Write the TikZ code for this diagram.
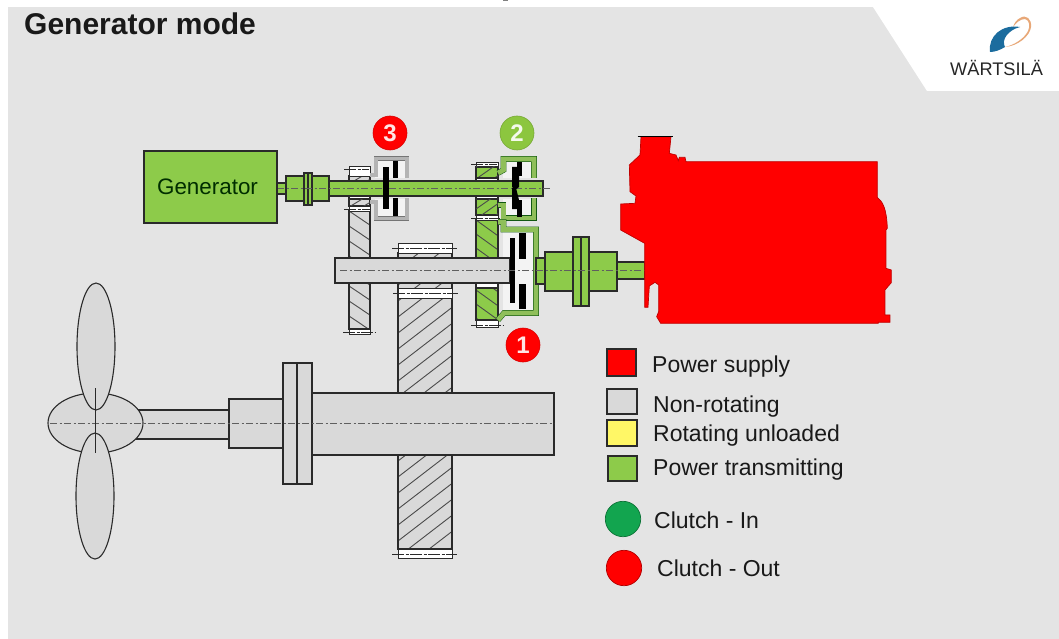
\documentclass[tikz,border=0pt]{standalone}
\usepackage{fontspec}
\setmainfont{Liberation Sans}
\definecolor{bgc}{HTML}{E4E4E4}
\definecolor{partgray}{HTML}{D9D9D9}
\definecolor{pgreen}{HTML}{8DCB4A}
\definecolor{hgreen}{HTML}{8FBF5A}
\definecolor{hgray}{HTML}{B4B4B4}
\definecolor{ink}{HTML}{2A2A2A}
\definecolor{cin}{HTML}{12A54F}
\definecolor{badgegreen}{HTML}{8CC63F}
\definecolor{logoblue}{HTML}{1B6C9E}
\definecolor{logoorange}{HTML}{E8A878}
\tikzset{
  part/.style={draw=ink,line width=1.1pt},
  graypart/.style={part,fill=partgray},
  greenpart/.style={part,fill=pgreen},
  centerline/.style={draw=ink!75,line width=.7pt,dash pattern=on 7pt off 2.5pt on 2pt off 2.5pt},
  bearing/.style={draw=ink,line width=.9pt,fill=white},
  bearline/.style={draw=ink,line width=.9pt,dash pattern=on 12pt off 1.5pt on 3pt off 1.5pt},
  plate/.style={fill=black,draw=none},
  grayhouse/.style={draw=ink!65,double=hgray,double distance=3.8pt,line width=.5pt,line join=miter},
  greenhouse/.style={draw=ink!60!green!70!black,double=hgreen,double distance=4.6pt,line width=.5pt,line join=miter},
  label/.style={anchor=base west,inner sep=0pt,text=black!90,font=\fontsize{23}{27}\selectfont},
  badge/.style={circle,minimum size=34pt,inner sep=0pt,draw=#1!85!black,fill=#1,line width=.6pt,text=white!90!#1,font=\fontsize{24}{28}\selectfont\bfseries}
}
% x1 y1 x2 y2 slope spacing colour
\newcommand{\hatchbox}[7]{%
  \begin{scope}
    \clip (#1,#2) rectangle (#3,#4);
    \foreach \k in {-24,...,24}
      \draw[#7,line width=.9pt] (#1,{#2+\k*#6}) -- (#3,{#2+\k*#6+(#5)*(#3-#1)});
  \end{scope}}
\begin{document}
\begin{tikzpicture}[x=1pt,y=-1pt]
\useasboundingbox (0,0) rectangle (1059,639);
\fill[white] (0,0) rectangle (1059,639);
\fill[bgc] (8,7) rectangle (1059,639);
\fill[white] (873,7) -- (927,91) -- (1059,91) -- (1059,7) -- cycle;
\fill[gray] (503,0) rectangle (508,1);
% title
\node[anchor=base west,inner sep=0pt,font=\fontsize{30}{34}\selectfont\bfseries,text=black!90] (title) at (24,34.5) {Generator mode};
% logo
\fill[logoorange] (1005,47) .. controls (1018,46) and (1030,36) .. (1031,27) .. controls (1032,19) and (1026,14) .. (1020,18) .. controls (1016,20) and (1014,24) .. (1013,27) .. controls (1016,23) and (1020,19) .. (1025,19) .. controls (1030,20) and (1030,27) .. (1028,31) .. controls (1024,39) and (1014,45) .. cycle;
\fill[logoblue] (990,52) .. controls (988,36) and (1002,24) .. (1020,27) .. controls (1008,30) and (1001,40) .. (1005,47) .. controls (1000,50) and (995,52) .. cycle;
\node[anchor=base west,inner sep=0pt,font=\fontsize{18.2}{20}\selectfont,text=black!85] (logo) at (950,76) {WÄRTSILÄ};
% propeller
\draw[graypart] (135,410) rectangle (229,439);
\draw[graypart] (95.5,423) ellipse [x radius=47.5,y radius=30];
\draw[graypart] (96,346.5) ellipse [x radius=19,y radius=63.5];
\draw[graypart] (95,496) ellipse [x radius=19,y radius=63];
\draw[graypart] (229,399) rectangle (283,448);
% big gear
\draw[graypart] (398,253) rectangle (452,549);
\hatchbox{398}{253}{452}{549}{-.77}{16}{ink!85}
\draw[part] (398,253) rectangle (452,549);
\draw[bearing] (398,243) rectangle (452,253);
\draw[bearing] (398,288) rectangle (452,298);
\draw[bearing] (398,549) rectangle (452,558);
\draw[bearline] (392,248) -- (457,248);
\draw[bearline] (393,293) -- (458,293);
\draw[bearline] (392,554.5) -- (457,554.5);
% main prop shaft
\draw[graypart] (312,393) rectangle (554,455);
\draw[graypart] (283,363) rectangle (312,484);
\draw[part] (297,363) -- (297,484);
\draw[centerline] (50,423) -- (554,423);
\draw[draw=ink,line width=1pt] (95,388) -- (95,453);
% gear 3
\draw[graypart] (349,211) rectangle (370,329);
\hatchbox{349}{211}{370}{329}{.67}{15}{ink!85}
\draw[part] (349,211) rectangle (370,329);
\draw[bearing] (349,329) rectangle (370,334);
\draw[bearline] (343,332.5) -- (375,332.5);
\draw[part,fill=partgray] (349,176) rectangle (370,181);
\hatchbox{349}{176}{370}{181}{-.6}{8}{ink!85}
\draw[bearing] (349,166) rectangle (370,176);
\draw[bearline] (344,169) -- (369,169);
\draw[part,fill=white] (349,196) rectangle (370,206);
\draw[part,fill=partgray] (349,199) rectangle (370,206);
\hatchbox{349}{199}{370}{206}{-.6}{8}{ink!85}
\draw[bearing] (349,206) rectangle (370,211);
\draw[bearline] (344,209) -- (370,209);
% gear 2 and 1 teeth
\draw[part,fill=pgreen] (476,220) rectangle (498,320);
\hatchbox{476}{220}{498}{320}{.72}{14}{ink!85}
\draw[part] (476,220) rectangle (498,320);
\draw[bearing] (476,320) rectangle (498,327);
\draw[bearline] (471,325) -- (503,325);
\draw[part,fill=white] (476,283) rectangle (498,288);
\draw[bearing] (476,162) rectangle (498,167);
\draw[bearline] (471,164) -- (497,164);
\draw[part,fill=pgreen] (476,167) rectangle (498,178);
\hatchbox{476}{167}{498}{178}{-.7}{12}{ink!85}
\draw[part,fill=white] (476,178) rectangle (498,181);
\draw[part,fill=white] (476,196) rectangle (498,199);
\draw[part,fill=pgreen] (476,199) rectangle (498,215);
\hatchbox{476}{199}{498}{215}{-.7}{10}{ink!85}
\draw[bearing] (476,215) rectangle (498,220);
\draw[bearline] (471,218) -- (500,218);
% clutch 3 housing
\fill[white!55!bgc] (375,159) rectangle (406,178);
\fill[white!55!bgc] (375,199) rectangle (406,219);
\draw[grayhouse] (370,175) -- (376,175) -- (376,158.5) -- (407,158.5) -- (407,178);
\draw[grayhouse] (370,202) -- (376,202) -- (376,218.5) -- (407,218.5) -- (407,198);
% clutch 2 housing
\fill[white!55!bgc] (503,159) rectangle (533,178);
\fill[white!55!bgc] (503,199) rectangle (533,218);
\draw[greenhouse] (498,173) -- (503.5,170) -- (503.5,159) -- (534,159) -- (534,178);
\draw[greenhouse] (498,205) -- (503.5,205) -- (503.5,218) -- (534,218) -- (534,198);
% clutch 1 housing
\fill[white!55!bgc] (503,230) rectangle (535,312);
\draw[greenhouse] (498,222) -- (503.5,222) -- (503.5,229.5) -- (536,229.5) -- (536,313) -- (504,313) -- (498,320);
% upper shaft
\draw[greenpart] (277,183) rectangle (286,194);
\draw[greenpart] (329,181) rectangle (543,196);
\draw[greenpart] (286,176) rectangle (329,201);
\draw[greenpart] (304,173) rectangle (312,205);
\draw[part] (308,173) -- (308,205);
\draw[centerline] (277,188.5) -- (552,188.5);
% generator
\node[draw=ink,line width=1.1pt,fill=pgreen,minimum width=133pt,minimum height=72pt,inner sep=0pt,text=black!70!green!60!black,font=\fontsize{22.4}{26}\selectfont] (gen) at (210.5,187) {Generator\kern6pt};
% plates 3
\fill[plate] (383,167) rectangle (389,209);
\fill[plate] (393,161) rectangle (398,178);
\fill[plate] (393,198) rectangle (398,216);
% plates 2
\fill[plate] (517,162) rectangle (522,176);
\fill[plate] (512,167) rectangle (519,187) -- (515,190) -- (512,187);
\fill[plate] (512,188) -- (516,188) -- (519,200) -- (519,209) -- (512,209) -- cycle;
\fill[plate] (517,200) rectangle (522,217);
% lower shaft
\draw[graypart] (335,258) rectangle (510,283);
\fill[plate] (510,238) rectangle (515,303);
\fill[plate] (519,233) rectangle (526,259);
\fill[plate] (519,284) rectangle (526,309);
% output coupling
\draw[greenpart] (536,258) rectangle (545,284);
\draw[greenpart] (545,252) rectangle (617,291);
\draw[greenpart] (573,237) rectangle (589,306);
\draw[part] (581,237) -- (581,306);
\draw[greenpart] (617,262) rectangle (645,279);
\draw[centerline] (340,270) -- (645,270);
% engine
\begin{scope}[shift={(560,120)},x=.3333pt,y=-.3333pt]
\draw[fill=red,draw=red!75!black,line width=.7pt] (243,50) -- (333,50) -- (328,100) -- (348,105) -- (355,122) -- (358,112) -- (375,112) -- (378,125) -- (952,125) -- (952,232) .. controls (968,245) and (980,265) .. (982,325) -- (978,330) -- (978,445) -- (994,450) -- (994,488) -- (975,510) -- (975,585) -- (990,585) -- (990,607) -- (955,607) -- (955,610) -- (302,610) -- (290,590) -- (296,575) -- (296,495) -- (285,487) -- (268,498) -- (264,562) -- (254,562) -- (254,370) -- (182,330) -- (182,252) -- (225,250) -- (228,228) -- (210,215) -- (208,135) -- (240,105) -- cycle;
\draw[black,line width=1.2pt] (233,49) -- (338,49);
\end{scope}
% numbered badges
\node[badge=red] (b3) at (390,133) {3};
\node[badge=badgegreen] (b2) at (517,133) {2};
\node[badge=red] (b1) at (523,345) {1};
% legend
\draw[part,fill=red] (607,349) rectangle (636,376);
\draw[part,fill=partgray] (607,389) rectangle (637,414);
\draw[part,fill=yellow!60!white] (607,420) rectangle (637,446);
\draw[part,fill=pgreen] (608,456) rectangle (637,481);
\draw[line width=.7pt,draw=cin!70!black,fill=cin] (623,519) circle [radius=17.7];
\draw[line width=.7pt,draw=red!70!black,fill=red] (624,568) circle [radius=17.7];
\node[label] (l1) at (652,372) {Power supply};
\node[label] (l2) at (653,412) {Non-rotating};
\node[label] (l3) at (653,441.5) {Rotating unloaded};
\node[label] (l4) at (653,475) {Power transmitting};
\node[label] (l5) at (654,528) {Clutch - In};
\node[label] (l6) at (657,576) {Clutch - Out};
\end{tikzpicture}
\end{document}
